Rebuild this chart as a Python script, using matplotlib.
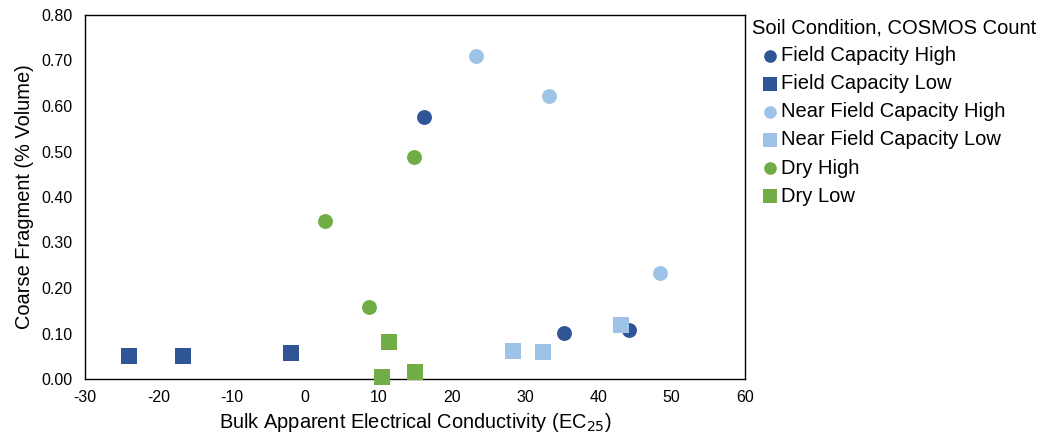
import matplotlib
matplotlib.use("Agg")
import matplotlib.pyplot as plt

plt.rcParams['font.family'] = ['Liberation Sans', 'DejaVu Sans']
plt.rcParams['axes.unicode_minus'] = False

fc_high_x = [16.2, 35.3, 44.2]
fc_high_y = [0.575, 0.101, 0.108]
fc_low_x = [-24.0, -16.6, -1.9]
fc_low_y = [0.051, 0.051, 0.057]
nfc_high_x = [23.3, 33.3, 48.4]
nfc_high_y = [0.709, 0.623, 0.233]
nfc_low_x = [28.4, 32.5, 43.1]
nfc_low_y = [0.062, 0.059, 0.119]
dry_high_x = [2.7, 14.9, 8.7]
dry_high_y = [0.348, 0.487, 0.159]
dry_low_x = [11.5, 10.5, 15.0]
dry_low_y = [0.081, 0.004, 0.015]

dark = '#2F5597'
light = '#9DC3E6'
green = '#70AD47'

fig = plt.figure(figsize=(10.46, 4.34), dpi=100)
ax = fig.add_axes([85/1046, 55/434, 660/1046, 364/434])

series = [
    (fc_high_x, fc_high_y, dark, 'o', 'Field Capacity High'),
    (fc_low_x, fc_low_y, dark, 's', 'Field Capacity Low'),
    (nfc_high_x, nfc_high_y, light, 'o', 'Near Field Capacity High'),
    (nfc_low_x, nfc_low_y, light, 's', 'Near Field Capacity Low'),
    (dry_high_x, dry_high_y, green, 'o', 'Dry High'),
    (dry_low_x, dry_low_y, green, 's', 'Dry Low'),
]
for x, y, c, m, lab in series:
    ax.scatter(x, y, s=(115 if m == 'o' else 135), c=c, marker=m, label=lab,
               linewidths=0, zorder=3, clip_on=False)

ax.set_xlim(-30, 60)
ax.set_ylim(0, 0.8)
ax.set_xticks(range(-30, 61, 10))
ax.set_yticks([i / 10 for i in range(0, 9)])
ax.set_yticklabels([f"{i/10:.2f}" for i in range(0, 9)])
ax.tick_params(length=0, labelsize=11.5, colors='#000000')
ax.tick_params(axis='y', pad=9)
ax.tick_params(axis='x', pad=8)
for sp in ax.spines.values():
    sp.set_linewidth(1.0)
    sp.set_color('black')

ax.set_xlabel('Bulk Apparent Electrical Conductivity (EC$_{25}$)', fontsize=14.4, labelpad=4)
ax.set_ylabel('Coarse Fragment (% Volume)', fontsize=14.4, labelpad=5)

leg = fig.legend(loc='upper left', bbox_to_anchor=(0.719, 0.958), frameon=False,
                 title='Soil Condition, COSMOS Count', fontsize=14.5, title_fontsize=14.5,
                 handletextpad=-0.35, labelspacing=0.45, handlelength=1.8, borderaxespad=0,
                 markerscale=0.85, borderpad=0)
leg._legend_box.align = 'left'

fig.savefig('out.png', dpi=100)
